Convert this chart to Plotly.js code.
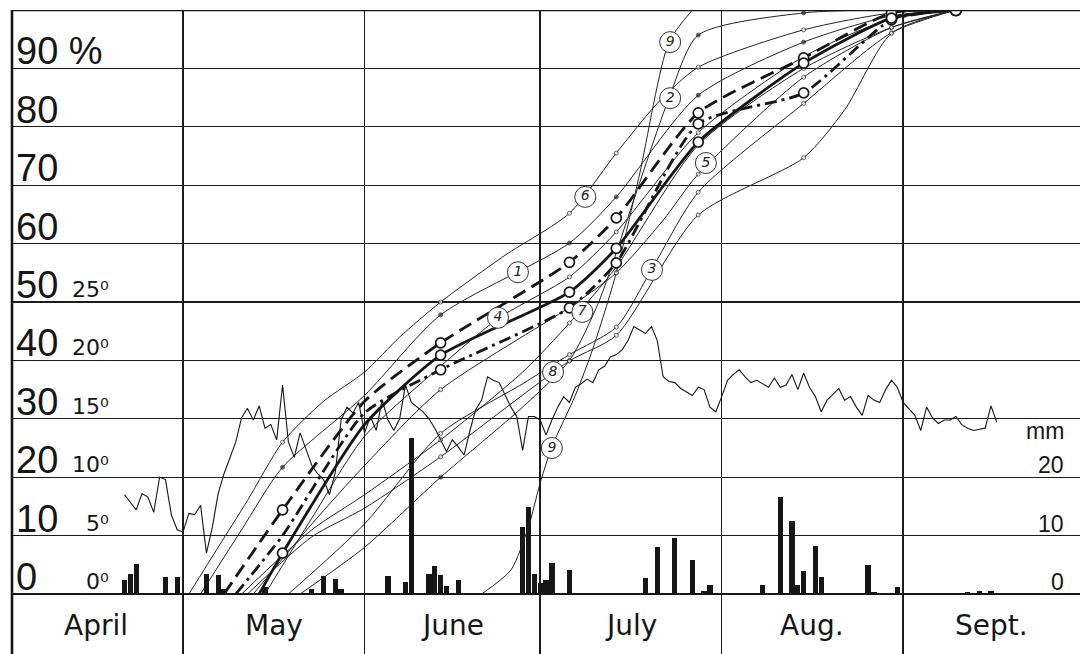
<!DOCTYPE html>
<html><head><meta charset="utf-8">
<script src="https://cdn.plot.ly/plotly-3.0.1.min.js"></script>
<style>html,body{margin:0;padding:0;background:#fff}#chart{width:1080px;height:654px}</style>
</head><body><div id="chart"></div>
<script>
// Day numbers: 0 = 1 April. Percent of season total (left axis), temperature in deg C, rain in mm.
const monthNames = ["April", "May", "June", "July", "Aug.", "Sept."];
const monthStarts = [30, 61, 91, 122, 153];
const monthMid = [15.2, 45.5, 76, 106.5, 137.5, 168];

const pctTicks = [90, 80, 70, 60, 50, 40, 30, 20, 10, 0];
const tempTicks = [25, 20, 15, 10, 5, 0];
const rainTicks = [20, 10, 0];

// daily mean temperature, consecutive days starting at day 20
const tempStartDay = 20;
const tempC = [8.5,7.8,7.2,8.6,8.3,7.0,10.0,9.8,6.8,5.5,
  5.3,6.9,6.8,7.6,3.5,5.7,8.6,10.3,11.7,13.0,
  15.1,15.9,14.9,16.1,14.2,14.5,13.2,17.9,13.0,11.7,
  13.8,12.3,11.0,10.3,9.8,8.5,10.4,14.9,16.0,15.5,
  16.4,13.8,15.2,14.0,16.6,14.9,14.0,15.0,17.9,16.4,
  16.0,15.6,15.0,14.2,13.2,12.2,13.2,12.6,11.9,14.0,
  15.8,16.6,18.6,18.3,18.1,17.0,16.0,15.2,12.3,15.2,
  15.2,14.9,13.6,14.9,16.0,16.9,16.4,17.7,18.0,18.4,
  18.1,19.2,19.5,20.3,20.5,20.9,21.7,22.9,22.6,22.3,
  22.9,21.7,18.6,18.2,18.1,17.6,17.3,17.0,17.7,17.5,
  16.0,15.6,16.9,18.3,18.8,19.2,18.6,18.1,18.3,18.0,
  17.7,18.5,17.7,17.9,18.8,17.5,18.9,17.7,16.9,15.6,
  16.6,17.1,17.6,16.6,16.9,16.0,15.3,17.0,16.6,16.4,
  17.5,18.3,17.7,16.4,15.8,15.3,14.0,16.0,15.1,14.6,
  14.9,14.9,15.2,14.5,14.2,14.0,14.1,14.2,16.1,14.7];

// daily rainfall
const rainDay = [20,21,22,27,29,34,36,37,44,52,54,56,57,65,68,69,72,73,74,75,77,88,89,90,91,92,93,96,109,111,114,117,119,120,129,132,134,135,136,138,139,147,148,152,164,166,168];
const rainMm  = [2.4,3.4,5.1,3.0,3.0,3.4,3.2,0.9,1.2,0.9,3.1,2.6,0.8,3.1,2.1,26.7,3.4,4.8,3.3,1.4,2.4,11.5,14.9,3.4,1.9,2.4,5.3,4.1,2.7,8.0,9.6,5.8,0.5,1.5,1.5,16.6,12.5,1.5,3.9,8.2,2.9,5.0,0.3,1.2,0.4,0.6,0.6];

// cumulative curves (thin, numbered)
const c1Day = [33, 40, 47, 61, 74, 96, 104, 118, 136, 151, 162];
const c1Pct = [0, 11, 21.7, 34, 47.8, 60.1, 68, 85.4, 94.5, 99, 100];
const c2Day = [50, 61, 74, 88, 96, 101, 107, 113, 118, 136, 151, 162];
const c2Pct = [0, 8, 20, 32, 40, 50, 67.5, 84.9, 95.7, 99.5, 100, 100];
const c3Day = [48, 61, 74, 88, 96, 104, 110, 118, 136, 151, 162];
const c3Pct = [0, 12, 27.5, 36, 41, 45.7, 55.5, 68.8, 84, 96.1, 100];
const c4Day = [44, 52, 61, 74, 84, 96, 104, 118, 136, 151, 162];
const c4Pct = [0, 13, 27, 39, 47.3, 54.3, 62, 79, 92, 98.5, 100];
const c5Day = [42, 52, 61, 74, 96, 104, 112, 118, 136, 151, 162];
const c5Pct = [0, 12, 22, 35, 49.1, 55, 64, 71.9, 88.5, 97, 100];
const c6Day = [31, 36, 41, 47, 54, 61, 67, 74, 85, 96, 104, 111, 118, 136, 151, 162];
const c6Pct = [0, 8, 16, 26, 33, 38, 44, 50, 58, 65.2, 75.5, 84, 90.2, 96.6, 99.5, 100];
const c7Day = [40, 52, 61, 74, 88, 96, 104, 118, 136, 151, 162];
const c7Pct = [0, 11, 17, 26.4, 38, 46.4, 56, 76.9, 90, 97, 100];
const c8Day = [41, 52, 61, 74, 96, 104, 118, 136, 143, 151, 162];
const c8Pct = [0, 9.8, 14.7, 23.5, 39.9, 44.3, 64.9, 74.7, 82.9, 96, 100];
const c9Day = [81, 86, 89, 91, 93, 97, 100, 104, 108, 113, 117];
const c9Pct = [0, 4.1, 11.5, 19, 25.2, 34, 42, 55, 72, 94.5, 100];

// bold curves
const dashDay = [37, 47, 61, 74, 96, 104, 118, 136, 151, 162];
const dashPct = [0, 14.4, 33, 43.0, 56.8, 64.4, 82.4, 91.8, 99.5, 100];
const solidDay = [43, 47, 61, 74, 96, 104, 118, 136, 151, 162];
const solidPct = [0, 7.0, 29, 40.9, 51.7, 59.2, 77.4, 90.9, 98.6, 100];
const dotDashDay = [39, 47, 61, 74, 96, 104, 118, 136, 151, 162];
const dotDashPct = [0, 10, 31, 38.4, 49, 56.7, 80.5, 85.8, 98.3, 100];

// circled curve numbers: [label, day, percent]
const curveLabels = [["1",87.2,55.1],["2",113.2,84.9],["3",110.1,55.5],["4",83.8,47.3],["5",119.3,73.8],
  ["6",98.7,68.0],["7",98.2,48.3],["8",93.2,38.0],["9",93.0,25.0],["9",113.2,94.5]];

const markerDays = [47, 74, 96, 104, 118, 136, 151];

const INK = '#161616';
const traces = [];

traces.push({type:'bar', x: rainDay, y: rainMm, width: 0.9, marker:{color: INK}, hoverinfo:'skip'});

traces.push({type:'scatter', mode:'lines', x: tempC.map((_, i) => tempStartDay + i), y: tempC, yaxis:'y2',
  line:{color: INK, width: 1.1}, hoverinfo:'skip'});

function thin(days, pct, filled) {
  return {type:'scatter', mode:'lines+markers', x: days, y: pct,
    line:{color:'#222', width:1, shape:'spline', smoothing:0.7},
    marker:{size: days.map((d, i) => (i > 0 && i < days.length - 1 && markerDays.includes(d)) ? 4 : 0),
      color: filled ? '#222' : '#ffffff', line:{color:'#222', width:1}},
    hoverinfo:'skip'};
}
traces.push(thin(c1Day, c1Pct, true));
traces.push(thin(c2Day, c2Pct, true));
traces.push(thin(c3Day, c3Pct, false));
traces.push(thin(c4Day, c4Pct, false));
traces.push(thin(c5Day, c5Pct, false));
traces.push(thin(c6Day, c6Pct, false));
traces.push(thin(c7Day, c7Pct, false));
traces.push(thin(c8Day, c8Pct, false));
traces.push(thin(c9Day, c9Pct, false));

function bold(days, pct, dash, skipDays) {
  return {type:'scatter', mode:'lines+markers', x: days, y: pct,
    line:{color: INK, width:2.8, dash: dash, shape:'spline', smoothing:0.6},
    marker:{size: days.map((d, i) => (i === 0 || skipDays.includes(d)) ? 0 : (i === days.length - 1 ? 11 : 10)),
      color:'#ffffff', opacity:1, line:{color: INK, width:1.7}},
    hoverinfo:'skip'};
}
traces.push(bold(dashDay, dashPct, '14px,7px', [61]));
traces.push(bold(dotDashDay, dotDashPct, '12px,5px,3px,5px', [47, 61]));
traces.push(bold(solidDay, solidPct, 'solid', [61]));

traces.push({type:'scatter', mode:'markers+text', x: curveLabels.map(l => l[1]), y: curveLabels.map(l => l[2]),
  text: curveLabels.map(l => l[0]), textposition:'middle center', cliponaxis:false,
  textfont:{family:'DejaVu Sans', size:14, color:'#222', style:'italic'},
  marker:{symbol:'circle', size:21, color:'#ffffff', line:{color:'#333', width:1}}, hoverinfo:'skip'});

const ann = [];
const numFont = {family:'Liberation Sans, Arial, sans-serif', size:38, color: INK};
pctTicks.forEach(p => {
  ann.push({xref:'paper', x:0, xanchor:'left', xshift:2, yref:'y', y:p, yanchor:'bottom', yshift:-6,
    text: p === 90 ? '90 %' : String(p), showarrow:false, font:numFont});
});
tempTicks.forEach(t => {
  ann.push({xref:'paper', x:(111 - 12) / 1068, xanchor:'right', yref:'y2', y:t, yanchor:'bottom', yshift:-2,
    text: t + '\u2070', showarrow:false, font:{family:'DejaVu Sans, sans-serif', size:22, color:INK}});
});
rainTicks.forEach(r => {
  ann.push({xref:'paper', x:(1066 - 12) / 1068, xanchor:'right', yref:'y', y:r, yanchor:'bottom', yshift:-3,
    text: String(r), showarrow:false, font:{family:'Liberation Sans, Arial, sans-serif', size:23, color:INK}});
});
ann.push({xref:'paper', x:(1066 - 12) / 1068, xanchor:'right', yref:'y', y:25.9, yanchor:'bottom', yshift:-3,
  text:'mm', showarrow:false, font:{family:'Liberation Sans, Arial, sans-serif', size:23, color:INK}});
monthNames.forEach((m, i) => {
  ann.push({xref:'x', x: monthMid[i], xanchor:'center', yref:'y', y:-5.4, yanchor:'middle',
    text:m, showarrow:false, font:{family:'DejaVu Sans, sans-serif', size:28, color:INK}});
});

const layout = {
  width:1080, height:654, margin:{l:12, r:0, t:10, b:0},
  paper_bgcolor:'white', plot_bgcolor:'white', showlegend:false, bargap:0,
  xaxis:{range:[0.79, 183.2], tickmode:'array', tickvals: monthStarts, showticklabels:false, ticks:'',
    showgrid:true, gridcolor:'#1c1c1c', gridwidth:1.4, zeroline:false, showline:false},
  yaxis:{range:[-10.27, 100], tickmode:'array', tickvals:[10,20,30,40,50,60,70,80,90], showticklabels:false, ticks:'',
    showgrid:true, gridcolor:'#1c1c1c', gridwidth:1.3, zeroline:true, zerolinecolor:INK, zerolinewidth:2.6, showline:false},
  yaxis2:{overlaying:'y', range:[-5.135, 50], visible:false, showgrid:false, zeroline:false},
  shapes:[
    {type:'line', xref:'paper', yref:'y', x0:0, x1:1, y0:100, y1:100, line:{color:INK, width:2.6}},
    {type:'line', xref:'paper', yref:'paper', x0:0, x1:0, y0:0, y1:1, line:{color:INK, width:2.6}}
  ],
  annotations: ann
};

Plotly.newPlot('chart', traces, layout, {staticPlot:true, displayModeBar:false});
</script></body></html>
